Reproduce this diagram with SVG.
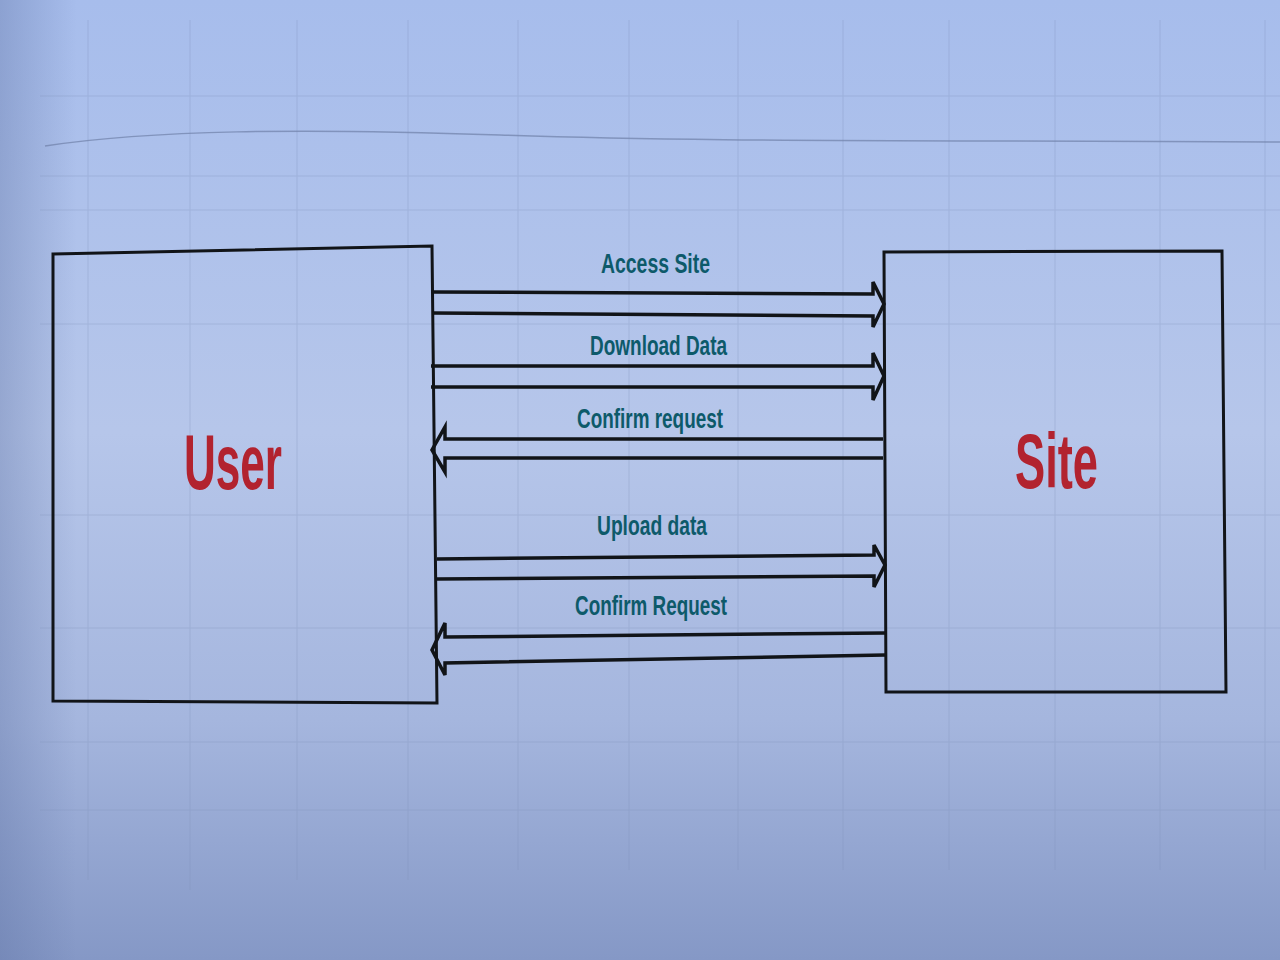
<svg xmlns="http://www.w3.org/2000/svg" width="1280" height="960" viewBox="0 0 1280 960">
  <defs>
    <linearGradient id="paper" x1="0" y1="0" x2="0" y2="1">
      <stop offset="0" stop-color="#a7bdec"/>
      <stop offset="0.45" stop-color="#b6c6ea"/>
      <stop offset="0.75" stop-color="#a5b6de"/>
      <stop offset="1" stop-color="#8598c6"/>
    </linearGradient>
    <linearGradient id="shade" x1="0" y1="0" x2="1" y2="0">
      <stop offset="0" stop-color="#5a6ea0" stop-opacity="0.35"/>
      <stop offset="0.06" stop-color="#5a6ea0" stop-opacity="0"/>
      <stop offset="1" stop-color="#5a6ea0" stop-opacity="0"/>
    </linearGradient>
    <style>
      .grid { stroke: #7f90b8; stroke-width: 1; opacity: 0.3; fill: none; }
      .box { fill: none; stroke: #111418; stroke-width: 3; stroke-linejoin: miter; }
      .arrow { fill: none; stroke: #111418; stroke-width: 3.5; stroke-linejoin: miter; }
      .lbl { font-family: "Liberation Sans", Arial, sans-serif; font-weight: bold; font-size: 28px; fill: #0d5a6a; }
      .big { font-family: "Liberation Sans", Arial, sans-serif; font-weight: bold; font-size: 78px; fill: #b2232f; }
    </style>
  </defs>

  <rect x="0" y="0" width="1280" height="960" fill="url(#paper)"/>
  <rect x="0" y="0" width="1280" height="960" fill="url(#shade)"/>

  <g id="grid" class="grid">
    <path d="M88 20V880 M190 20V890 M297 20V880 M408 20V880 M518 20V870 M629 20V870 M738 20V870 M843 20V870 M949 20V870 M1055 20V870 M1160 20V870 M1265 20V870"/>
    <path d="M40 96H1280 M40 176H1280 M40 210H1280 M40 324H1280 M40 515H1280 M40 628H1280 M40 742H1280 M40 810H1280"/>
  </g>
  <path d="M45 146 C150 130 300 128 500 135 S900 140 1280 142" fill="none" stroke="#6f80a8" stroke-width="1.5" opacity="0.7"/>

  <g id="node-user">
    <path class="box" d="M53 254 L432 246 L437 703 L53 701 Z"/>
    <text class="big" x="184" y="489" textLength="98" lengthAdjust="spacingAndGlyphs">User</text>
  </g>

  <g id="node-site">
    <path class="box" d="M884 252 L1222 251 L1226 692 L886 692 Z"/>
    <text class="big" x="1015" y="488" font-size="80" textLength="83" lengthAdjust="spacingAndGlyphs">Site</text>
  </g>

  <g id="connectors">
    <path class="arrow" d="M432 292 L873 294 L873 282 L884 304 L873 327 L873 316 L432 313"/>
    <path class="arrow" d="M431 366 L873 366 L873 353 L884 376 L873 400 L873 387 L431 387"/>
    <path class="arrow" d="M883 439 L445 439 L445 427 L432 450 L445 472 L445 458 L883 458"/>
    <path class="arrow" d="M437 559 L874 555 L874 545 L885 565 L874 587 L874 576 L437 579"/>
    <path class="arrow" d="M885 633 L445 637 L445 623 L432 650 L445 675 L445 663 L885 655"/>
  </g>

  <g id="labels">
    <text class="lbl" x="601" y="273" textLength="109" lengthAdjust="spacingAndGlyphs">Access Site</text>
    <text class="lbl" x="590" y="355" textLength="137" lengthAdjust="spacingAndGlyphs">Download Data</text>
    <text class="lbl" x="577" y="428" textLength="146" lengthAdjust="spacingAndGlyphs">Confirm request</text>
    <text class="lbl" x="597" y="535" textLength="110" lengthAdjust="spacingAndGlyphs">Upload data</text>
    <text class="lbl" x="575" y="615" textLength="152" lengthAdjust="spacingAndGlyphs">Confirm Request</text>
  </g>
</svg>
